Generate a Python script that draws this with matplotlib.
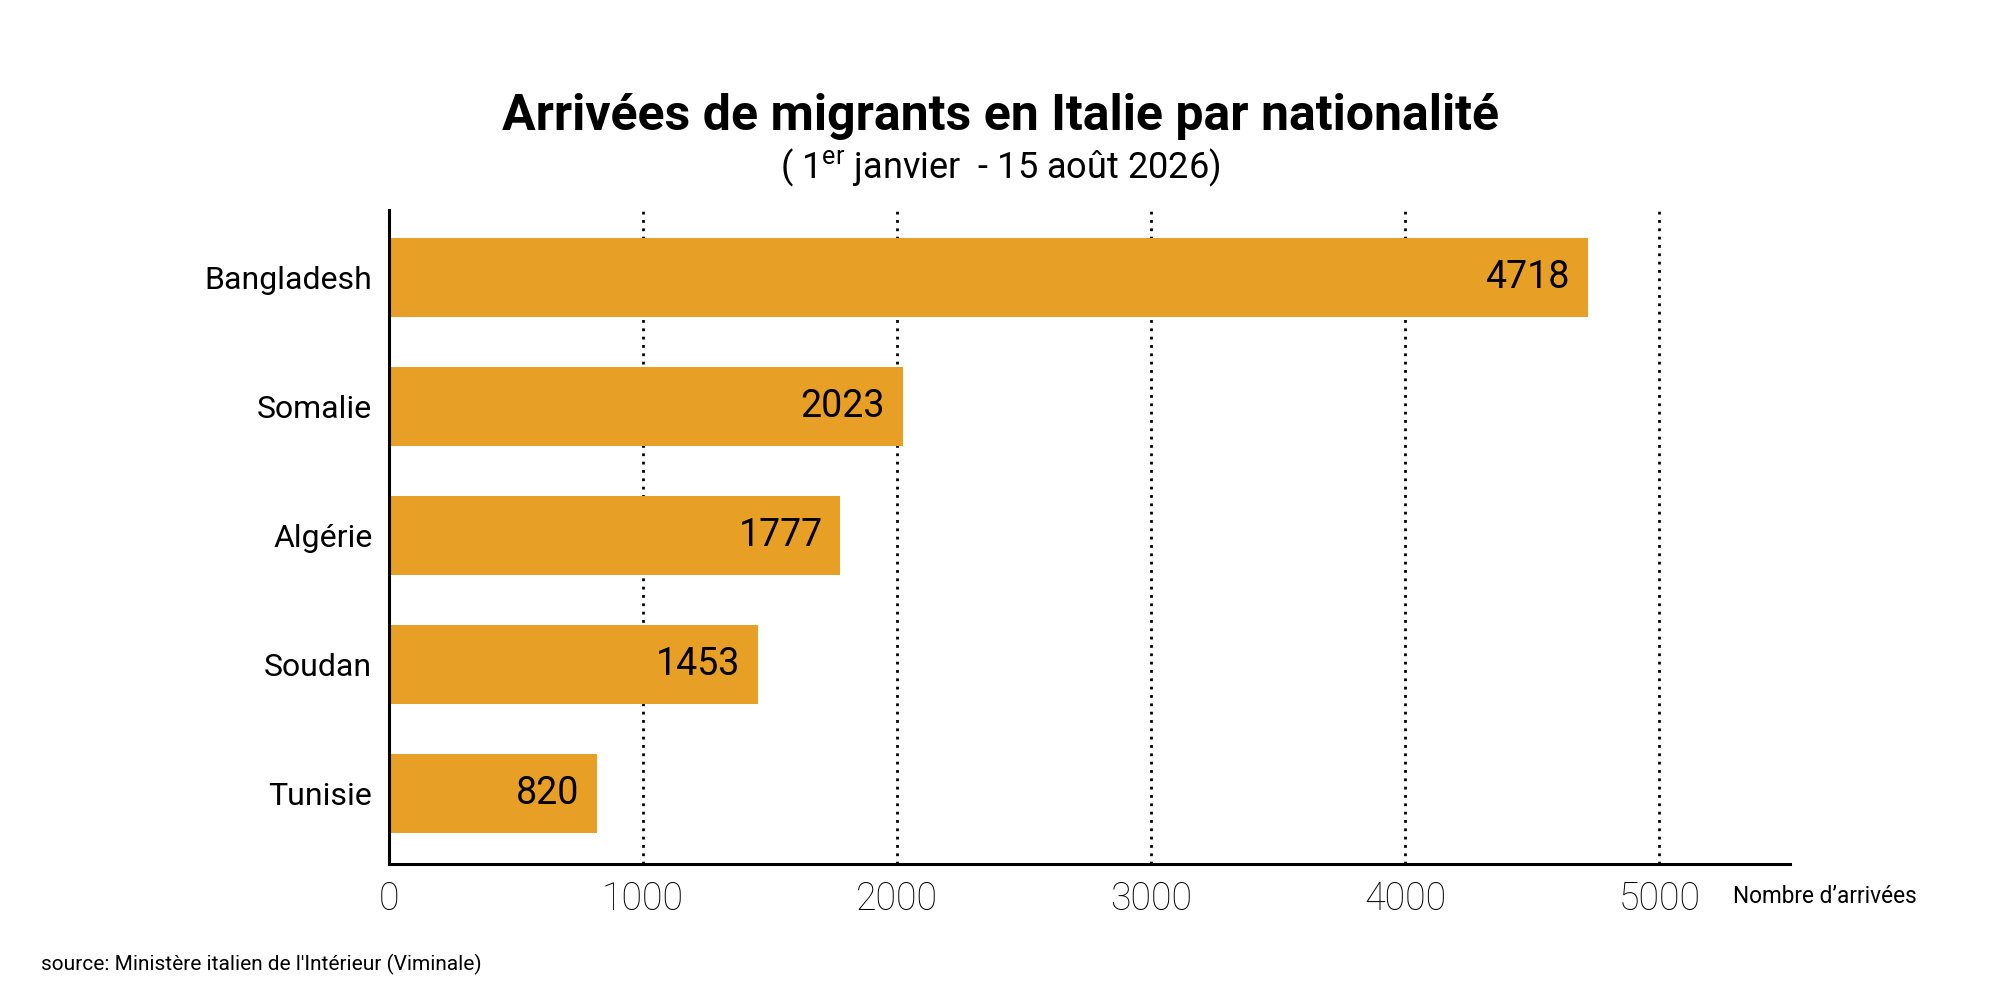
import matplotlib
matplotlib.use('Agg')
import matplotlib.pyplot as plt
import numpy as np

plt.rcParams['font.family'] = ['Roboto', 'DejaVu Sans']
plt.rcParams['mathtext.fontset'] = 'custom'
plt.rcParams['mathtext.rm'] = 'Roboto'

# data
countries = ['Bangladesh', 'Somalie', 'Algérie', 'Soudan', 'Tunisie']
arrivals = [4718, 2023, 1777, 1453, 820]
x_ticks = [0, 1000, 2000, 3000, 4000, 5000]

bar_colour = '#E89F25'

fig = plt.figure(figsize=(20, 10), dpi=100)
ax = fig.add_axes([0.1945, 0.136, 0.7005, 0.654])

# bottom bar is the last country
y = np.arange(len(countries))[::-1]
ax.barh(y, arrivals, height=0.61, color=bar_colour, zorder=2)

for yi, v in zip(y, arrivals):
    ax.text(v - 70, yi, str(v), ha='right', va='center', fontsize=27, zorder=3)

# dotted vertical grid
for t in x_ticks[1:]:
    ax.axvline(t, color='black', linestyle=(0, (1, 2)), linewidth=2.0, zorder=1)

ax.set_xlim(0, 5515)
ax.set_ylim(-0.545, 4.525)
ax.set_yticks(y)
ax.set_yticklabels(countries, fontsize=23)
ax.set_xticks(x_ticks)
ax.set_xticklabels([str(t) for t in x_ticks], fontsize=27, fontweight='light')
ax.tick_params(axis='both', length=0)
ax.tick_params(axis='x', pad=12)
ax.tick_params(axis='y', pad=12)

for s in ['top', 'right']:
    ax.spines[s].set_visible(False)
for s in ['left', 'bottom']:
    ax.spines[s].set_linewidth(2.2)
    ax.spines[s].set_color('black')

fig.text(0.5, 0.87, 'Arrivées de migrants en Italie par nationalité',
         ha='center', va='baseline', fontsize=36, fontweight='bold')
fig.text(0.5, 0.822, r'( 1$^{\mathrm{er}}$ janvier  - 15 août 2026)',
         ha='center', va='baseline', fontsize=26)

fig.text(0.8665, 0.097, 'Nombre d’arrivées', ha='left', va='baseline', fontsize=16.3)
fig.text(0.0204, 0.03, "source: Ministère italien de l'Intérieur (Viminale)",
         ha='left', va='baseline', fontsize=15)

fig.savefig('out.png', dpi=100, facecolor='white')
